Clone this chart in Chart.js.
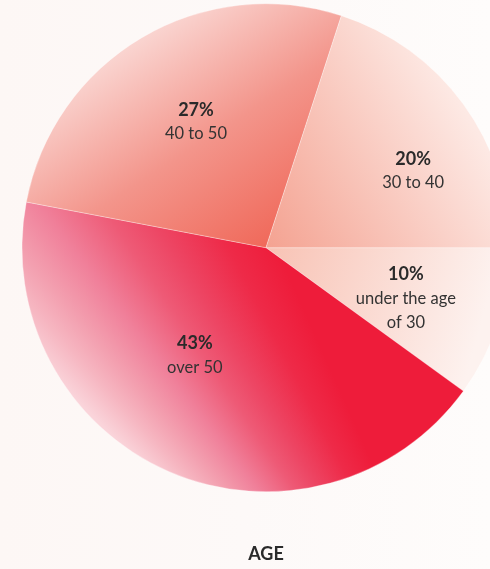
<!DOCTYPE html>
<html>
<head>
<meta charset="utf-8">
<script src="https://cdn.jsdelivr.net/npm/chart.js@4"></script>
<style>
    html, body {
        margin: 0;
        padding: 0;
        width: 490px;
        height: 569px;
        overflow: hidden;
        background: linear-gradient(90deg, #fdf7f5 0%, #fdf9f8 50%, #fefcfb 100%);
    }
    #wrap {
        position: relative;
        width: 532px;
        height: 569px;
    }
</style>
</head>
<body>
<div id="wrap"><canvas id="grafico"></canvas></div>
<script>
// age groups, clockwise from 3 o'clock
const ageGroups = [["under the age", "of 30"], ["over 50"], ["40 to 50"], ["30 to 40"]];
const shares = [10, 43, 27, 20];

const PIE_RADIUS = 244;

// gradient per slice, points in radius units around the centre
// linear: from -> to ; conic: around "at", starting at "start" degrees
const sliceFills = [
    { from: [0, 0], to: [0.9, 0.25], stops: [[0, "#f8c2b4"], [1, "#fdf2ef"]] },
    {
        conic: true, at: [1.2, 2.6], start: 215,
        stops: [[0, "#fbd8de"], [0.0278, "#fad4da"], [0.0347, "#f6b6c1"], [0.0403, "#f3a0b0"],
                [0.0486, "#f0809a"], [0.0583, "#ee5a76"], [0.0653, "#ed4664"], [0.0764, "#ee2a48"],
                [0.0861, "#ee1c3a"], [1, "#ee1c3a"]]
    },
    { from: [0, 0], to: [-0.55, -0.85], stops: [[0, "#f0695a"], [0.5, "#f3958b"], [1, "#fad6d2"]] },
    { from: [0, 0], to: [0.85, -0.5], stops: [[0, "#f4a291"], [1, "#fde9e4"]] }
];

// where each label sits: angle shift from the slice middle (deg) and fraction of radius
const labelShift = [2, 10, 1.5, 8.5];
const labelRadius = [0.61, 0.53, 0.59, 0.68];

function sliceGradient(ctx) {
    const chart = ctx.chart;
    const area = chart.chartArea;
    if (!area) return "#f5a5a5";
    const cx = (area.left + area.right) / 2;
    const cy = (area.top + area.bottom) / 2;
    const r = PIE_RADIUS;
    const f = sliceFills[ctx.dataIndex];
    let g;
    if (f.conic) {
        g = chart.ctx.createConicGradient(f.start * Math.PI / 180, cx + f.at[0] * r, cy + f.at[1] * r);
    } else {
        g = chart.ctx.createLinearGradient(
            cx + f.from[0] * r, cy + f.from[1] * r,
            cx + f.to[0] * r, cy + f.to[1] * r
        );
    }
    f.stops.forEach(s => g.addColorStop(s[0], s[1]));
    return g;
}

const sliceLabels = {
    id: "sliceLabels",
    afterDatasetsDraw(chart) {
        const c = chart.ctx;
        const arcs = chart.getDatasetMeta(0).data;
        c.save();
        c.textAlign = "center";
        c.textBaseline = "middle";
        arcs.forEach((arc, i) => {
            const mid = (arc.startAngle + arc.endAngle) / 2 + labelShift[i] * Math.PI / 180;
            const r = arc.outerRadius * labelRadius[i];
            const x = arc.x + Math.cos(mid) * r;
            const y = arc.y + Math.sin(mid) * r;
            const lines = ageGroups[i];
            const total = lines.length + 1;
            let ly = y - (total - 1) * 12;
            c.fillStyle = "#2a2a2a";
            c.font = "bold 18px Lato, 'Open Sans', sans-serif";
            c.fillText(shares[i] + "%", x, ly);
            c.fillStyle = "#333333";
            c.font = "16.5px Lato, 'Open Sans', sans-serif";
            lines.forEach(l => {
                ly += 24;
                c.fillText(l, x, ly);
            });
        });
        c.restore();
    }
};

const canvas = document.getElementById("grafico");
canvas.width = 532;
canvas.height = 569;

new Chart(canvas, {
    type: "pie",
    data: {
        labels: ageGroups,
        datasets: [
            {
                data: shares,
                backgroundColor: sliceGradient,
                borderColor: "rgba(255,255,255,0.3)",
                borderWidth: 1
            }
        ]
    },
    options: {
        responsive: false,
        animation: false,
        events: [],
        rotation: 90,
        radius: PIE_RADIUS,
        layout: {
            padding: { top: 4, left: 22, right: 22, bottom: 0 }
        },
        plugins: {
            legend: { display: false },
            tooltip: { enabled: false },
            title: {
                display: true,
                position: "bottom",
                text: "AGE",
                color: "#2a2a2a",
                font: { size: 18, weight: "bold", family: "Lato, 'Open Sans', sans-serif" },
                padding: { top: 52, bottom: 4 }
            }
        }
    },
    plugins: [sliceLabels]
});
</script>
</body>
</html>
